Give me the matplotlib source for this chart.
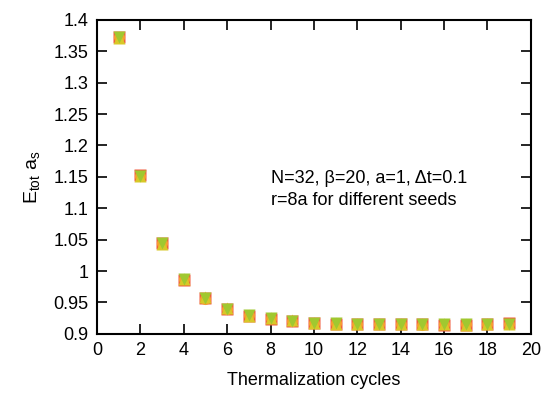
import matplotlib
matplotlib.use("Agg")
import matplotlib.pyplot as plt

plt.rcParams["font.family"] = ["Liberation Sans", "DejaVu Sans"]
plt.rcParams["mathtext.fontset"] = "custom"
plt.rcParams["mathtext.rm"] = "Liberation Sans"
plt.rcParams["mathtext.it"] = "Liberation Sans"

cycles = list(range(1, 20))
# energies for four different seeds
seed1 = [1.372, 1.153, 1.044, 0.986, 0.957, 0.939, 0.929, 0.924, 0.920, 0.917,
         0.916, 0.915, 0.916, 0.915, 0.915, 0.914, 0.914, 0.915, 0.917]
seed2 = [1.373, 1.151, 1.045, 0.988, 0.956, 0.940, 0.930, 0.925, 0.921, 0.918,
         0.917, 0.916, 0.915, 0.916, 0.914, 0.915, 0.915, 0.916, 0.916]
seed3 = [1.371, 1.152, 1.043, 0.987, 0.958, 0.941, 0.929, 0.926, 0.922, 0.918,
         0.916, 0.916, 0.916, 0.915, 0.915, 0.915, 0.914, 0.915, 0.915]
seed4 = [1.372, 1.152, 1.044, 0.987, 0.957, 0.940, 0.930, 0.925, 0.921, 0.918,
         0.917, 0.915, 0.915, 0.915, 0.915, 0.915, 0.915, 0.915, 0.916]

fig = plt.figure(figsize=(5.45, 3.97), dpi=100)
ax = fig.add_axes([0.178, 0.159, 0.796, 0.791])

ax.plot(cycles, seed1, "s", color="#f05a3c", ms=9, mec="none")
ax.plot(cycles, seed2, "o", color="#f5a030", ms=8, mec="none")
ax.plot(cycles, seed3, "^", color="#d8c828", ms=9, mec="none")
ax.plot(cycles, seed4, "v", color="#a0c830", ms=9, mec="none")

ax.set_xlim(0, 20)
ax.set_ylim(0.9, 1.4)
ax.set_xticks(range(0, 21, 2))
ax.set_yticks([0.9, 0.95, 1.0, 1.05, 1.1, 1.15, 1.2, 1.25, 1.3, 1.35, 1.4])
ax.set_yticklabels(["0.9", "0.95", "1", "1.05", "1.1", "1.15", "1.2",
                    "1.25", "1.3", "1.35", "1.4"])
ax.tick_params(direction="in", length=7, width=1.2, top=True, right=True,
               labelsize=13, pad=6)
for s in ax.spines.values():
    s.set_linewidth(1.5)

ax.set_xlabel("Thermalization cycles", fontsize=13, labelpad=9)
ax.set_ylabel(r"E$_{\rm tot}$ a$_{\rm s}$", fontsize=14, labelpad=8)

ax.text(8.0, 1.148, "N=32, \u03b2=20, a=1, \u0394t=0.1", fontsize=13, va="center")
ax.text(8.0, 1.112, "r=8a for different seeds", fontsize=13, va="center")

fig.savefig("out.png", dpi=100)
